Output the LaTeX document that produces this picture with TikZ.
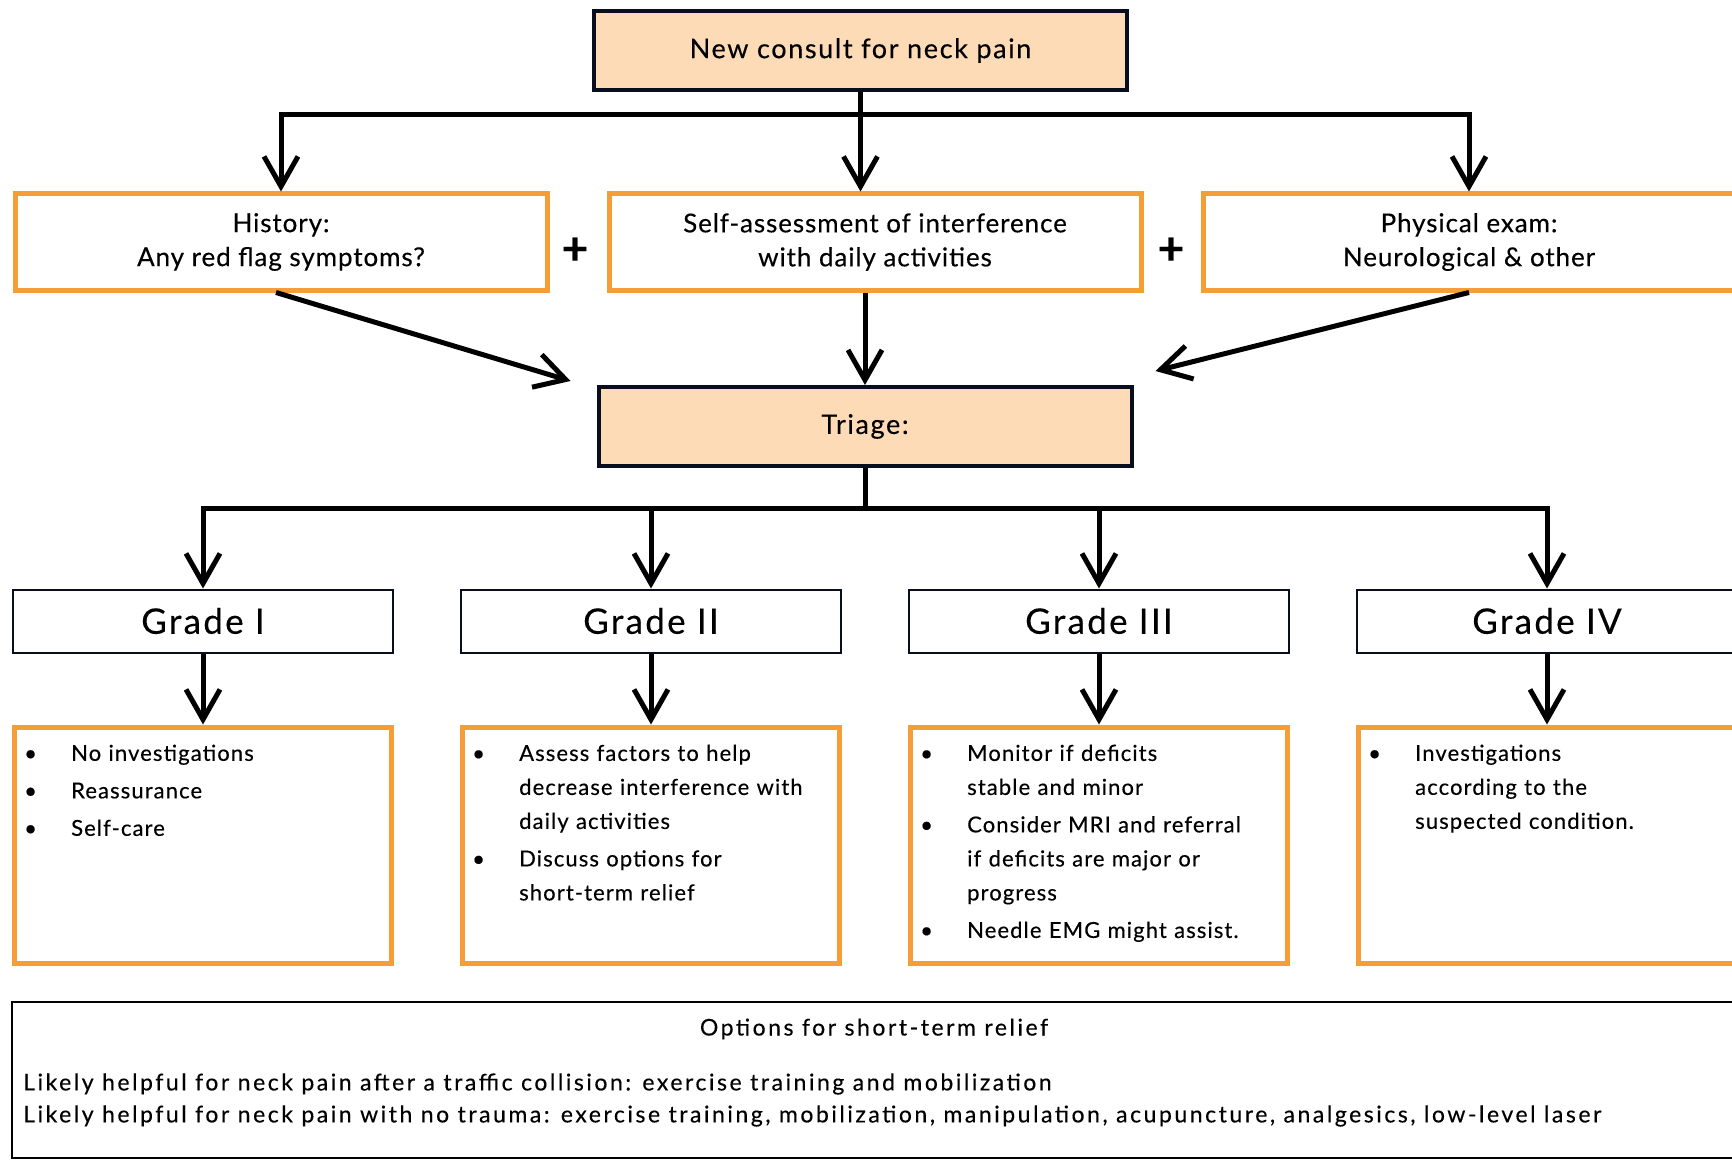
\documentclass[tikz,border=0pt]{standalone}
\usepackage{fontspec}
\setmainfont{Lato}[FakeBold=0.3]
\usetikzlibrary{arrows.meta,calc}
\definecolor{peach}{RGB}{252,219,182}
\definecolor{orng}{RGB}{245,157,55}
\definecolor{navy}{RGB}{8,14,30}
\newcommand{\nl}{\hfil\break}
\newcommand{\bul}[1]{\noindent\hangindent=50pt\hangafter=1\makebox[50pt][l]{\hspace{3pt}\textbullet}#1\par}
\begin{document}
\begin{tikzpicture}[x=1pt,y=-1pt,
  peachbox/.style={draw=navy,line width=4pt,fill=peach,minimum width=533pt,minimum height=79pt,inner sep=0pt,align=center,font=\fontsize{27}{34}\selectfont\addfontfeature{LetterSpace=6}},
  orangebox/.style={draw=orng,line width=5pt,fill=white,minimum width=532pt,minimum height=96pt,inner sep=0pt,align=center,font=\fontsize{26}{34}\selectfont\addfontfeature{LetterSpace=3.5}},
  gradebox/.style={draw=navy,line width=2pt,fill=white,minimum width=380pt,minimum height=63pt,inner sep=0pt,font=\fontsize{35}{40}\selectfont\addfontfeature{LetterSpace=6.5}},
  contentbox/.style={draw=orng,line width=5pt,fill=white,minimum width=377pt,minimum height=236pt,inner sep=0pt},
  listtext/.style={anchor=north west,inner sep=0pt,text width=345pt,align=left,font=\fontsize{22}{34}\selectfont\addfontfeature{LetterSpace=5}\setlength{\parskip}{3.5pt}},
  bottomtext/.style={inner sep=0pt,font=\fontsize{23}{32}\selectfont\addfontfeature{LetterSpace=11}},
  plussign/.style={font=\fontsize{46}{46}\selectfont\bfseries,inner sep=0pt},
  conn/.style={line width=5pt},
  arr/.style={line width=5pt,-{Straight Barb[length=30pt,width=34pt]}},
]
\useasboundingbox (0,0) rectangle (1732,1161);
\fill[white] (0,0) rectangle (1732,1161);

% top
\node[peachbox] (top) at (860.5,50.5) {\raisebox{-2.5pt}{New consult for neck pain}};
% row 2
\node[orangebox] (hist) at (281,242) {History:\\Any red flag symptoms?};
\node[orangebox] (self) at (875,242) {Self-assessment of interference\\with daily activities};
\node[orangebox] (phys) at (1469,242) {Physical exam:\\Neurological \& other};
\node[plussign] (p1) at (575,251) {+};
\node[plussign] (p2) at (1171,251) {+};
% triage
\node[peachbox] (tri) at (865,426.5) {\raisebox{-3pt}{Triage:}};
% grades
\node[gradebox] (g1) at (203,621) {Grade I};
\node[gradebox] (g2) at (651,621) {Grade II};
\node[gradebox] (g3) at (1099,621) {Grade III};
\node[gradebox] (g4) at (1547,621) {Grade IV};
% content
\node[contentbox] (c1) at (203,845) {};
\node[contentbox] (c2) at (651,845) {};
\node[contentbox] (c3) at (1099,845) {};
\node[contentbox] (c4) at (1547,845) {};
\node[listtext] (t1) at ($(c1.north west)+(9,20)$) {\bul{No investigations}\bul{Reassurance}\bul{Self-care}};
\node[listtext] (t2) at ($(c2.north west)+(9,20)$) {\bul{Assess factors to help\nl decrease interference with\nl daily activities}\bul{Discuss options for\nl short-term relief}};
\node[listtext] (t3) at ($(c3.north west)+(9,20)$) {\bul{Monitor if deficits\nl stable and minor}\bul{Consider MRI and referral\nl if deficits are major or\nl progress}\bul{Needle EMG might assist.}};
\node[listtext] (t4) at ($(c4.north west)+(9,20)$) {\bul{Investigations\nl according to the\nl suspected condition.}};
% bottom
\node[draw=black,line width=2pt,minimum width=1760pt,minimum height=156pt,inner sep=0pt] (opt) at (892,1080) {};
\node[bottomtext] (optt) at (874,1029) {Options for short-term relief};
\node[bottomtext,anchor=west,align=left] (optl) at ($(opt.west)+(12,20)$) {Likely helpful for neck pain after a traffic collision: exercise training and mobilization\\Likely helpful for neck pain with no trauma: exercise training, mobilization, manipulation, acupuncture, analgesics, low-level laser};

% connectors
\draw[arr] (top.south) -- ++(0,23) -| (hist.north);
\draw[arr] (top.south) -- (top.south |- self.north);
\draw[arr] (top.south) -- ++(0,23) -| (phys.north);
\draw[arr] ([xshift=-5pt]hist.south) -- ($(tri.north west)+(-26,-4)$);
\draw[arr] (tri.north |- self.south) -- (tri.north);
\draw[arr] (phys.south) -- ($(tri.north east)+(22,-14)$);
\draw[arr] (tri.south) -- ++(0,40) -| (g1.north);
\draw[arr] (tri.south) -- ++(0,40) -| (g2.north);
\draw[arr] (tri.south) -- ++(0,40) -| (g3.north);
\draw[arr] (tri.south) -- ++(0,40) -| (g4.north);
\draw[arr] (g1.south) -- (c1.north);
\draw[arr] (g2.south) -- (c2.north);
\draw[arr] (g3.south) -- (c3.north);
\draw[arr] (g4.south) -- (c4.north);
\end{tikzpicture}
\end{document}
